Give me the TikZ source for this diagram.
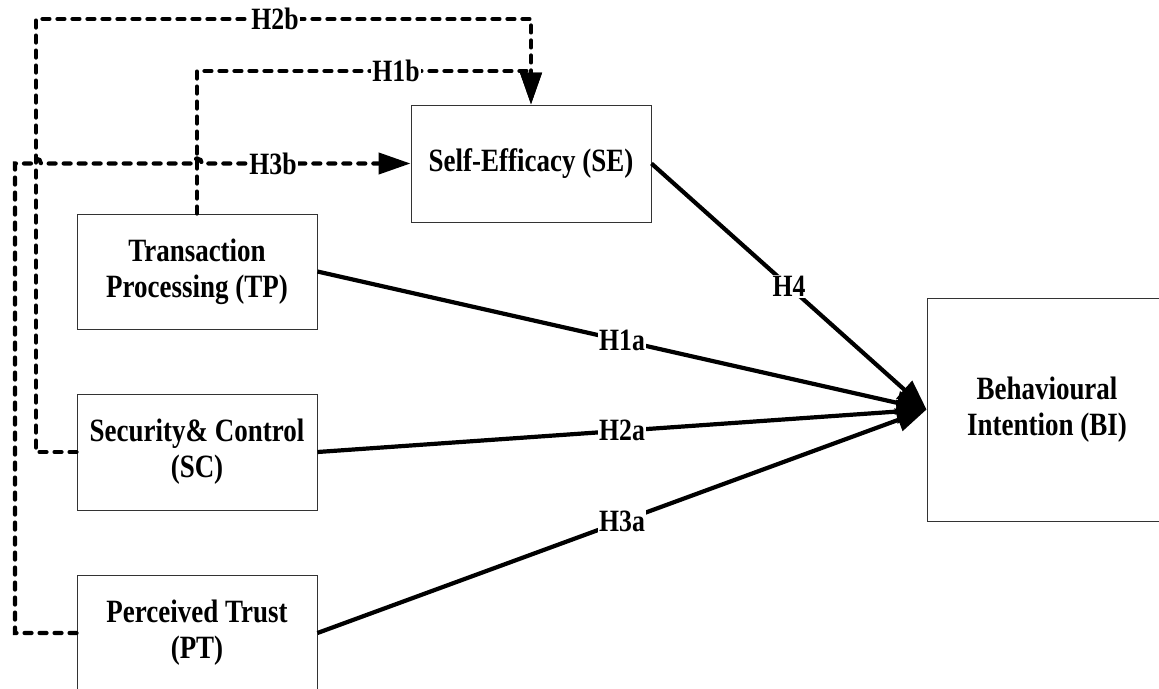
\documentclass[tikz,border=0pt]{standalone}
\usepackage{fontspec}
\setmainfont{Liberation Serif}[FakeStretch=0.83]
\usetikzlibrary{arrows.meta}
\begin{document}
\begin{tikzpicture}[x=1pt,y=-1pt,
  box/.style={draw=black!80,line width=0.9pt,inner sep=0pt,align=center,
    font=\bfseries\fontsize{32.5}{36}\selectfont},
  lab/.style={fill=white,inner sep=1pt,font=\bfseries\fontsize{31}{34}\selectfont},
  solidcon/.style={line width=4.2pt,-{Triangle[length=30pt,width=23pt]}},
  dashcon/.style={line width=4.2pt,dash pattern=on 7pt off 8pt,line cap=round,
    -{Triangle[length=32pt,width=21pt]}}]
\useasboundingbox (0,0) rectangle (1159,688);
\begin{scope}
\clip (0,0) rectangle (1159,688);
% boxes
\node[box,minimum width=240pt,minimum height=117pt] (SE) at (531,163.5) {Self-Efficacy (SE)};
\node[box,minimum width=240pt,minimum height=115pt] (TP) at (197,271.5) {Transaction\\Processing (TP)};
\node[box,minimum width=240pt,minimum height=116pt] (SC) at (197,452) {Security\& Control\\(SC)};
\node[box,minimum width=240pt,minimum height=116pt] (PT) at (197,633) {Perceived Trust\\(PT)};
\node[box,minimum width=240pt,minimum height=223pt] (BI) at (1047,409.5) {Behavioural\\Intention (BI)};
% corner coordinates
\coordinate (c2a) at (36,19);
\coordinate (c1a) at (531,71);
\coordinate (c3a) at (15,163.5);
% dashed connectors
\draw[dashcon] (SC.west) -| (c2a) -| (SE.north);
\draw[dashcon] (TP.north) |- (c1a) -- (SE.north);
\draw[dashcon] (PT.west) -| (c3a) -- (31,163.5) arc[start angle=180,end angle=0,radius=5pt]
   -- (192,163.5) arc[start angle=180,end angle=0,radius=5pt] -- (SE.west);
\node[lab] (h2b) at (275,19) {H2b};
\node[lab] (h1b) at (396,71) {H1b};
\node[lab] (h3b) at (273,163.5) {H3b};
% solid connectors
\draw[solidcon] (SE.east) -- node[lab] (h4) {H4} (BI.west);
\draw[solidcon] (TP.east) -- node[lab] (h1a) {H1a} (BI.west);
\draw[solidcon] (SC.east) -- node[lab] (h2a) {H2a} (BI.west);
\draw[solidcon] (PT.east) -- node[lab] (h3a) {H3a} (BI.west);
\end{scope}
\end{tikzpicture}
\end{document}
